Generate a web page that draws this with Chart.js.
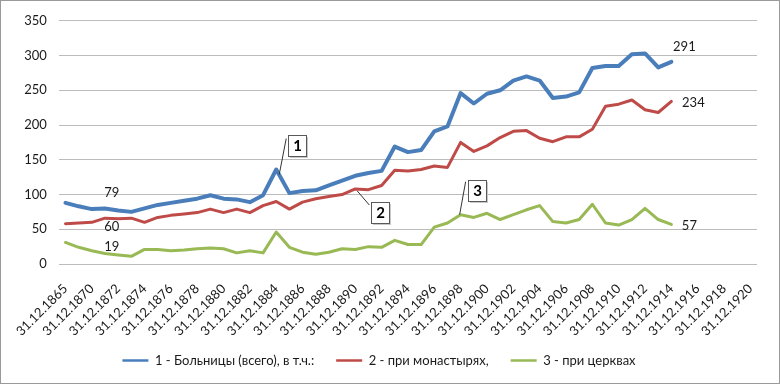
<!DOCTYPE html>
<html lang="ru">
<head>
<meta charset="UTF-8">
<title>Больницы</title>
<style>
    body { margin: 0; padding: 0; background: #fff; }
    .wrap {
        width: 778px;
        height: 382px;
        border: 1px solid #9a9a9a;
        position: relative;
    }
    canvas { display: block; }
</style>
</head>
<body>
<div class="wrap"><canvas id="chart" width="778" height="382"></canvas></div>

<script src="https://cdn.jsdelivr.net/npm/chart.js"></script>
<script>
// категории (31.12 каждого года), вторая точка без подписи
const years = ['31.12.1865', '31.12.1869'];
for (let y = 1870; y <= 1920; y++) years.push('31.12.' + y);

const seriesNames = ['1 - Больницы (всего), в т.ч.:', '2 - при монастырях,', '3 - при церквах'];

const hospitals = [88, 83, 79, 80, 77, 75, 80, 85, 88, 91, 94, 99, 94, 93, 89, 99, 136, 102, 105, 106,
    113, 120, 127, 131, 134, 169, 161, 164, 191, 198, 246, 231, 245, 250, 264, 270, 264, 239, 241, 247,
    282, 285, 285, 302, 303, 283, 291];
const monasteries = [58, 59, 60, 66, 65, 66, 60, 67, 70, 72, 74, 79, 74, 79, 74, 84, 90, 79, 89, 94,
    97, 100, 108, 107, 113, 135, 134, 136, 141, 139, 175, 162, 170, 182, 191, 192, 181, 176, 183, 183,
    194, 227, 230, 236, 222, 218, 234];
const churches = [31, 24, 19, 15, 13, 11, 21, 21, 19, 20, 22, 23, 22, 16, 19, 16, 46, 24, 17, 14,
    17, 22, 21, 25, 24, 34, 28, 28, 53, 59, 71, 67, 73, 64, 71, 78, 84, 61, 59, 64,
    86, 59, 56, 64, 80, 64, 57];

const yTicks = [0, 50, 100, 150, 200, 250, 300, 350];

// подписи значений: [серия, индекс точки, текст]
const valueLabels = [
    [0, 2, '79'], [1, 2, '60'], [2, 2, '19'],
    [0, 46, '291'], [1, 46, '234'], [2, 46, '57']
];
// выноски с номерами: [серия, индекс точки, номер]
const callouts = [[0, 16, '1'], [1, 22, '2'], [2, 30, '3']];

const colors = ['#4a7ebb', '#be4b48', '#98b954'];
const font = 'Lato, "DejaVu Sans", sans-serif';

// смещения подписей (px) относительно точки
const labelShift = {
    '0-2': [20, -16], '1-2': [20, 5], '2-2': [20, -4],
    '0-46': [13, -15], '1-46': [22, 1], '2-46': [18, 1]
};
const calloutShift = {
    '1': { box: [12, -34], line: [[10, -31], [3, 5]] },
    '2': { box: [16, 13], line: [[14, 16], [2, 2]] },
    '3': { box: [7, -35], line: [[5, -33], [-1, 0]] }
};

const labelsPlugin = {
    id: 'labelsPlugin',
    afterDatasetsDraw(chart) {
        const ctx = chart.ctx;
        ctx.save();
        ctx.font = '13px ' + font;
        ctx.fillStyle = '#1a1a1a';
        ctx.textAlign = 'center';
        ctx.textBaseline = 'middle';
        valueLabels.forEach(([s, i, txt]) => {
            const pt = chart.getDatasetMeta(s).data[i];
            const sh = labelShift[s + '-' + i];
            ctx.fillText(txt, pt.x + sh[0], pt.y + sh[1]);
        });

        callouts.forEach(([s, i, num]) => {
            const pt = chart.getDatasetMeta(s).data[i];
            const c = calloutShift[num];
            ctx.strokeStyle = '#333';
            ctx.lineWidth = 1;
            ctx.beginPath();
            ctx.moveTo(pt.x + c.line[0][0], pt.y + c.line[0][1]);
            ctx.lineTo(pt.x + c.line[1][0], pt.y + c.line[1][1]);
            ctx.stroke();
            const bx = Math.round(pt.x + c.box[0]) + 0.5;
            const by = Math.round(pt.y + c.box[1]) + 0.5;
            ctx.fillStyle = '#c8c8c8';
            ctx.fillRect(bx + 1.5, by + 1.5, 18, 21);
            ctx.fillStyle = '#fff';
            ctx.fillRect(bx, by, 18, 21);
            ctx.strokeStyle = '#595959';
            ctx.strokeRect(bx, by, 18, 21);
            ctx.fillStyle = '#000';
            ctx.font = 'bold 15px ' + font;
            ctx.fillText(num, bx + 9, by + 11);
        });
        ctx.restore();
    }
};

const ctx = document.getElementById('chart').getContext('2d');
new Chart(ctx, {
    type: 'line',
    data: {
        labels: years,
        datasets: [
            { label: seriesNames[0], data: hospitals, borderColor: colors[0], backgroundColor: colors[0], borderWidth: 4 },
            { label: seriesNames[1], data: monasteries, borderColor: colors[1], backgroundColor: colors[1], borderWidth: 3 },
            { label: seriesNames[2], data: churches, borderColor: colors[2], backgroundColor: colors[2], borderWidth: 3 }
        ]
    },
    options: {
        responsive: false,
        animation: false,
        layout: { padding: { top: 14, right: 22, bottom: 6, left: 0 } },
        elements: {
            point: { radius: 0, hoverRadius: 0 },
            line: { tension: 0, borderJoinStyle: 'round', borderCapStyle: 'round' }
        },
        plugins: {
            legend: {
                position: 'bottom',
                labels: {
                    font: { family: font, size: 13 },
                    color: '#1a1a1a',
                    usePointStyle: true,
                    pointStyle: 'line',
                    pointStyleWidth: 26,
                    padding: 22,
                    generateLabels(chart) {
                        const items = Chart.defaults.plugins.legend.labels.generateLabels(chart);
                        items.forEach(it => { it.lineWidth = 2.5; it.pointStyle = 'line'; });
                        return items;
                    }
                }
            },
            tooltip: { enabled: false }
        },
        scales: {
            x: {
                type: 'category',
                offset: true,
                afterFit(scale) {
                    scale.height = 68;
                    // подписи не обрезаются по высоте оси
                    scale._computeLabelArea = () => undefined;
                },
                grid: { display: false, drawTicks: false },
                border: { display: false },
                ticks: {
                    autoSkip: false,
                    minRotation: 45,
                    maxRotation: 45,
                    padding: 17,
                    color: '#1a1a1a',
                    font: { family: font, size: 13 },
                    callback(val, idx) { return idx % 2 === 0 ? this.getLabelForValue(val) : ''; }
                }
            },
            y: {
                min: 0,
                max: 350,
                afterFit(scale) { scale.width = 52; },
                afterBuildTicks(scale) { scale.ticks = yTicks.map(v => ({ value: v })); },
                grid: { color: '#bcbcbc', lineWidth: 1, drawTicks: false },
                border: { display: false },
                ticks: {
                    padding: 12,
                    color: '#1a1a1a',
                    font: { family: font, size: 13 }
                }
            }
        }
    },
    plugins: [labelsPlugin]
});
</script>
</body>
</html>
